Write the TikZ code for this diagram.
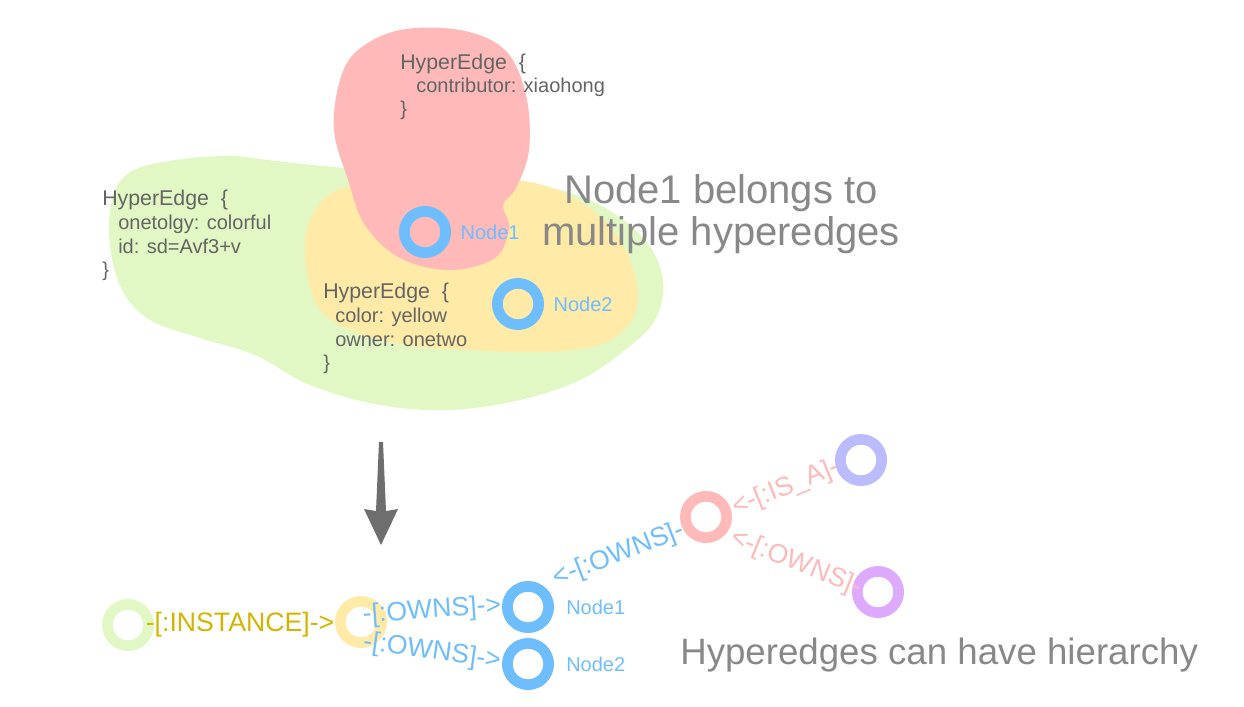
\documentclass[tikz,border=0pt]{standalone}
\usepackage{fontspec}
\setmainfont{Liberation Sans}
\usetikzlibrary{positioning}
\definecolor{ringblue}{RGB}{110,190,255}
\definecolor{blobgreen}{RGB}{226,248,196}
\definecolor{blobyellow}{RGB}{255,234,168}
\definecolor{blobred}{RGB}{255,185,185}
\definecolor{ringlav}{RGB}{187,187,255}
\definecolor{ringviolet}{RGB}{222,170,255}
\definecolor{instgold}{RGB}{212,180,0}
\definecolor{textgray}{RGB}{100,100,100}
\definecolor{biggray}{RGB}{136,136,136}
\definecolor{arrowgray}{RGB}{110,110,110}
\newcommand{\hehead}{{\fontsize{16}{17}\selectfont HyperEdge~~\{}}
\tikzset{
  ring/.style={circle,line width=8pt,minimum size=31pt,inner sep=0pt},
  heblock/.style={anchor=north west,align=left,text=textgray,inner sep=0pt,
    font=\fontsize{15}{17.8}\selectfont},
  rel/.style={inner sep=0pt,font=\fontsize{20}{24}\selectfont},
  nlabel/.style={inner sep=0pt,text=ringblue,font=\fontsize{15}{18}\selectfont}
}
\begin{document}
\begin{tikzpicture}[x=0.75pt,y=-0.75pt]
  \useasboundingbox (0,0) rectangle (1244,706);
  % hyperedge blobs
  \fill[blobgreen] plot[smooth cycle,tension=0.6] coordinates {(112,200) (130,172) (175,160) (230,156) (268,160) (345,168) (460,175) (540,185) (600,205) (645,240) (663,280) (655,320) (625,350) (580,380) (520,400) (450,410) (380,405) (310,385) (255,355) (200,338) (150,320) (122,290) (110,245)};
  \fill[blobyellow] plot[smooth cycle,tension=0.6] coordinates {(308,225) (325,198) (355,186) (450,180) (530,182) (585,205) (620,240) (637,285) (632,320) (600,345) (540,352) (470,350) (405,345) (355,332) (322,312) (308,280) (305,250)};
  \fill[blobred] plot[smooth cycle,tension=0.6] coordinates {(334,130) (340,80) (358,50) (400,30) (460,30) (505,50) (526,95) (529,150) (516,188) (503,205) (509,228) (495,258) (450,270) (400,258) (365,225) (348,180)};
  \node[heblock,font=\fontsize{15}{17}\selectfont] (redtext) at (400,54) {\hehead\\\hspace*{12pt}contributor: xiaohong\\\}};
  \node[heblock] (greentext) at (102,190) {\hehead\\\hspace*{12pt}onetolgy: colorful\\\hspace*{12pt}id: sd=Avf3+v\\\}};
  \node[heblock] (yellowtext) at (323,283) {\hehead\\\hspace*{9pt}color: yellow\\\hspace*{9pt}owner: onetwo\\\}};
  \node[ring,draw=ringblue] (n1top) at (425,232) {};
  \node[ring,draw=ringblue] (n2top) at (518,304) {};
  \node[nlabel,right=7pt of n1top] (n1toplabel) {Node1};
  \node[nlabel,right=7pt of n2top] (n2toplabel) {Node2};
  \node[align=center,text=biggray,inner sep=0pt,font=\fontsize{30}{31.5}\selectfont] (belongs) at (721,214) {Node1 belongs to\\multiple hyperedges};
  % down arrow
  \fill[arrowgray] (379,442) -- (383,442) -- (386,511) -- (398,509) -- (381,545) -- (364,509) -- (376,511) -- cycle;
  % bottom graph
  \node[ring,draw=blobgreen] (inst) at (128,625) {};
  \node[ring,draw=blobyellow] (yel) at (361,622) {};
  \node[ring,draw=ringblue] (n1) at (528,607) {};
  \node[ring,draw=ringblue] (n2) at (528,664) {};
  \node[ring,draw=blobred] (red) at (706,517) {};
  \node[ring,draw=ringlav] (lav) at (861,460) {};
  \node[ring,draw=ringviolet] (vio) at (878,592) {};
  \node[nlabel,right=9pt of n1] (n1label) {Node1};
  \node[nlabel,right=9pt of n2] (n2label) {Node2};
  \node[rel,text=instgold] (instrel) at (240,625) {-[:INSTANCE]->};
  \node[rel,text=ringblue,rotate=4] (own1) at (432,611) {-[:OWNS]->};
  \node[rel,text=ringblue,rotate=-8] (own2) at (432,652) {-[:OWNS]->};
  \node[rel,text=ringblue,rotate=21] (own3) at (619,555) {<-[:OWNS]-};
  \node[rel,text=blobred,rotate=22] (isa) at (786,488) {<-[:IS\_A]-};
  \node[rel,text=blobred,rotate=-22] (own4) at (796,563) {<-[:OWNS]-};
  \node[anchor=west,text=biggray,inner sep=0pt,font=\fontsize{27.5}{30}\selectfont] (hier) at (680,655) {Hyperedges can have hierarchy};
\end{tikzpicture}
\end{document}
